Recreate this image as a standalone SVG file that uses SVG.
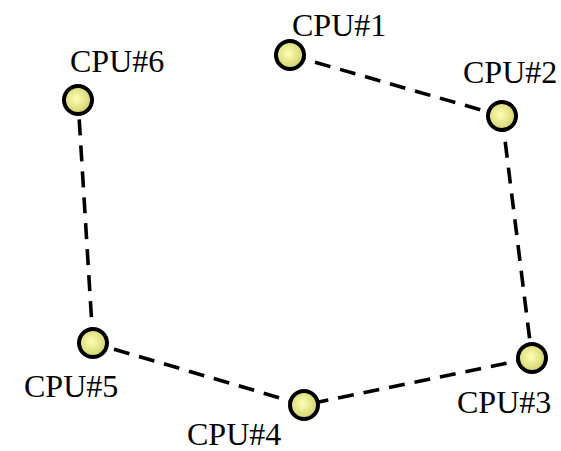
<svg xmlns="http://www.w3.org/2000/svg" width="561" height="451" viewBox="0 0 561 451">
  <style>
    .link { stroke: #000; stroke-width: 3.6; stroke-dasharray: 16 10; fill: none; }
    .cpu { fill: url(#cpuFill); stroke: #000; stroke-width: 4; }
    .lbl { font-family: "Liberation Serif", "Times New Roman", serif; font-size: 32px; fill: #000; }
  </style>
  <defs>
    <radialGradient id="cpuFill" cx="0.45" cy="0.45" r="0.6">
      <stop offset="0" stop-color="#ffffb4"/>
      <stop offset="1" stop-color="#cccc66"/>
    </radialGradient>
  </defs>
  <rect width="561" height="451" fill="#fff"/>
  <g id="connectors">
    <line class="link" x1="290" y1="55" x2="502" y2="116"/>
    <line class="link" x1="502" y1="116" x2="532" y2="358"/>
    <line class="link" x1="532" y1="358" x2="304" y2="405"/>
    <line class="link" x1="304" y1="405" x2="93" y2="343"/>
    <line class="link" x1="93" y1="343" x2="78" y2="100"/>
  </g>
  <g id="cpu1"><circle class="cpu" cx="290" cy="55" r="14"/><text class="lbl" x="292" y="36">CPU#1</text></g>
  <g id="cpu2"><circle class="cpu" cx="502" cy="116" r="14"/><text class="lbl" x="463" y="83">CPU#2</text></g>
  <g id="cpu3"><circle class="cpu" cx="532" cy="358" r="14"/><text class="lbl" x="457" y="413">CPU#3</text></g>
  <g id="cpu4"><circle class="cpu" cx="304" cy="405" r="14"/><text class="lbl" x="187" y="445">CPU#4</text></g>
  <g id="cpu5"><circle class="cpu" cx="93" cy="343" r="14"/><text class="lbl" x="24" y="397">CPU#5</text></g>
  <g id="cpu6"><circle class="cpu" cx="78" cy="100" r="14"/><text class="lbl" x="70" y="72">CPU#6</text></g>
</svg>
